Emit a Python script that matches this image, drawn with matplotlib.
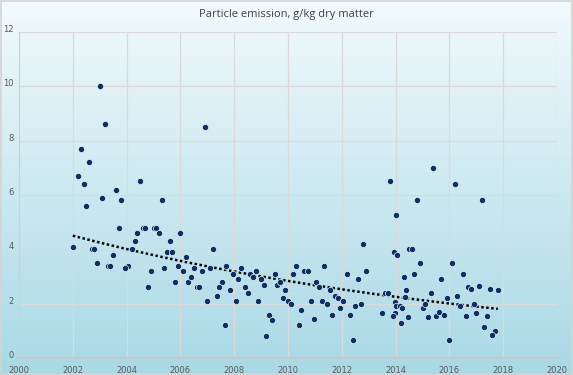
import numpy as np
import matplotlib
matplotlib.use("Agg")
import matplotlib.pyplot as plt

# values (year, g/kg dry matter)
years = [
    2003.0, 2003.2, 2006.9, 2002.3, 2002.6, 2002.2, 2002.4, 2004.5, 2003.6, 2003.1,
    2003.8, 2005.3, 2002.5, 2003.7, 2004.6, 2004.7, 2005.0, 2005.1, 2005.2, 2004.4,
    2006.0, 2004.3, 2005.6, 2002.0, 2002.7, 2002.8, 2004.2, 2005.5, 2005.7, 2003.5,
    2006.2, 2002.9, 2003.3, 2003.4, 2004.05, 2003.95, 2005.9, 2004.9, 2005.4, 2006.1,
    2006.5, 2006.8, 2005.8, 2006.3, 2006.4, 2004.8, 2006.6, 2006.7, 2007.0, 2007.2,
    2007.1, 2007.7, 2007.55, 2007.45, 2007.35, 2007.85, 2007.65, 2007.95, 2008.05, 2008.25,
    2008.15, 2008.4, 2008.5, 2008.6, 2008.7, 2008.8, 2009.0, 2009.1, 2008.9, 2009.3,
    2009.4, 2009.2, 2009.5, 2009.6, 2009.7, 2009.9, 2009.8, 2010.0, 2010.1, 2010.2,
    2010.3, 2010.5, 2010.4, 2010.6, 2010.75, 2010.85, 2010.95, 2011.05, 2015.4, 2013.8,
    2014.8, 2014.0, 2012.8, 2013.95, 2014.05, 2014.5, 2014.6, 2014.9, 2011.35, 2012.2,
    2012.9, 2012.6, 2014.3, 2014.7, 2011.15, 2011.55, 2011.75, 2011.85, 2012.05, 2011.25,
    2011.45, 2011.95, 2012.5, 2012.7, 2011.65, 2012.3, 2012.4, 2013.6, 2013.7, 2014.4,
    2015.3, 2014.35, 2013.98, 2014.0, 2014.15, 2014.25, 2013.5, 2013.99, 2013.9, 2014.45,
    2014.2, 2015.0, 2015.1, 2015.2, 2015.5, 2015.6, 2015.7, 2016.2, 2017.2, 2016.1,
    2016.5, 2016.7, 2016.8, 2017.1, 2017.5, 2017.8, 2016.3, 2015.9, 2016.9, 2016.4,
    2015.8, 2016.6, 2017.0, 2017.4, 2017.3, 2017.7, 2017.6, 2016.0,
]
values = [
    10.0, 8.6, 8.5, 7.7, 7.2, 6.7, 6.4, 6.5, 6.2, 5.9,
    5.8, 5.8, 5.6, 4.8, 4.8, 4.8, 4.8, 4.8, 4.6, 4.6,
    4.6, 4.3, 4.3, 4.1, 4.0, 4.0, 4.0, 3.9, 3.9, 3.8,
    3.7, 3.5, 3.4, 3.4, 3.4, 3.3, 3.4, 3.2, 3.3, 3.2,
    3.3, 3.2, 2.8, 2.8, 3.0, 2.6, 2.6, 2.6, 2.1, 4.0,
    3.3, 3.4, 2.8, 2.6, 2.3, 2.5, 1.2, 3.1, 2.1, 3.3,
    2.9, 2.6, 2.4, 3.1, 3.0, 3.2, 2.9, 2.7, 2.1, 1.6,
    1.4, 0.8, 3.1, 2.7, 2.8, 2.5, 2.2, 2.1, 2.0, 3.1,
    3.4, 1.75, 1.2, 3.2, 3.2, 2.1, 1.45, 2.8, 7.0, 6.5,
    5.8, 5.25, 4.2, 3.9, 3.8, 4.0, 4.0, 3.5, 3.4, 3.1,
    3.2, 2.9, 3.0, 3.1, 2.6, 2.5, 2.3, 2.2, 2.1, 2.1,
    2.0, 1.85, 1.9, 2.0, 1.6, 1.6, 0.65, 2.4, 2.4, 2.5,
    2.4, 2.25, 2.05, 1.9, 1.9, 1.85, 1.65, 1.65, 1.55, 1.5,
    1.3, 1.85, 2.0, 1.5, 1.55, 1.7, 2.9, 6.4, 5.8, 3.5,
    3.1, 2.6, 2.55, 2.65, 2.55, 2.5, 2.3, 2.2, 2.0, 1.9,
    1.6, 1.55, 1.65, 1.55, 1.15, 1.0, 0.85, 0.65,
]

title = "Particle emission, g/kg dry matter"
x_ticks = list(range(2000, 2021, 2))
y_ticks = list(range(0, 13, 2))

W, H = 573, 375
fig = plt.figure(figsize=(W / 100, H / 100), dpi=100)

# gradient background over the whole chart area
bg = fig.add_axes([0, 0, 1, 1], zorder=-10)
grad = np.linspace(0, 1, 256).reshape(-1, 1)
top = np.array([0.95, 0.98, 0.99])
bottom = np.array([0.66, 0.85, 0.90])
img = top + (bottom - top) * grad[..., None]
bg.imshow(img, aspect="auto", extent=[0, 1, 0, 1], origin="upper")
bg.set_xlim(0, 1)
bg.set_ylim(0, 1)
bg.axis("off")
bg.add_patch(plt.Rectangle((0.001, 0.002), 0.997, 0.995, fill=False,
                           edgecolor="#d4d4d4", linewidth=1.2))

ax = fig.add_axes([19 / W, 1 - 358 / H, (557 - 19) / W, (358 - 32) / H])
ax.patch.set_alpha(0)

ax.scatter(years, values, s=20, color="#0c2f66", edgecolors="#e8f4f8",
           linewidths=0.5, zorder=3)

# exponential trend line (log-linear least squares, like Excel)
xs = np.array(years)
ys = np.array(values)
b, a = np.polyfit(xs - 2000, np.log(ys), 1)
tx = np.linspace(2002, 2017.8, 100)
ax.plot(tx, np.exp(a + b * (tx - 2000)), color="black", linestyle=(0, (1, 1)),
        linewidth=1.8, zorder=2)

ax.set_xlim(2000, 2020)
ax.set_ylim(0, 12)
ax.set_xticks(x_ticks)
ax.set_yticks(y_ticks)
ax.grid(True, color="#dadada", linewidth=0.9)
ax.set_axisbelow(True)
for side in ["top", "right"]:
    ax.spines[side].set_visible(False)
ax.spines["left"].set_color("#d0d0d0")
ax.spines["bottom"].set_color("#c8c8c8")
ax.spines["bottom"].set_linewidth(1.2)
ax.tick_params(length=0, labelsize=6, labelcolor="#595959")
ax.tick_params(axis="x", pad=6)
ax.tick_params(axis="y", pad=4)
for lbl in ax.get_yticklabels():
    lbl.set_verticalalignment("baseline")

fig.text(0.5, 1 - 15 / H, title, ha="center", va="center", fontsize=8,
         color="#404040", family="Open Sans")

fig.savefig("out.png", dpi=100)
